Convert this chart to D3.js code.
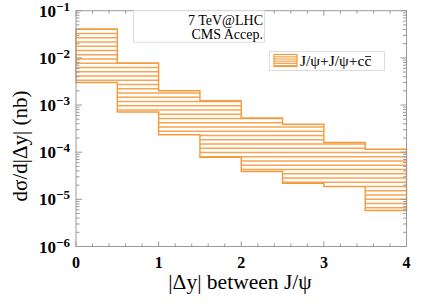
<!DOCTYPE html>
<html>
<head>
<meta charset="utf-8">
<script src="https://cdn.jsdelivr.net/npm/d3@7"></script>
<style>
  body { margin: 0; background: #fff; }
  svg { display: block; }
</style>
</head>
<body>
<script>
//bin edges in |dy|
var binLo = [0, 0.5, 1, 1.5, 2, 2.5, 3, 3.5];
var binHi = [0.5, 1, 1.5, 2, 2.5, 3, 3.5, 4];
//upper and lower edge of the band (nb)
var upper = [0.041, 0.0078, 0.0020, 0.00124, 0.00053, 0.00039, 0.00016, 0.000115];
var lower = [0.0030, 0.00071, 0.000234, 0.000078, 0.000039, 0.000022, 0.0000186, 0.0000058];
//tick values
var xMajor = [0, 1, 2, 3, 4];
var yExp = [-6, -5, -4, -3, -2, -1];

var width = 427, height = 307;
var orange = "#f49a3a";
var serif = "'Liberation Serif', 'Times New Roman', serif";

var svg = d3.select("body").append("svg")
    .attr("width", width)
    .attr("height", height)
    .attr("font-family", serif);

var x = d3.scaleLinear().domain([0, 4]).range([76, 406.5]);
var y = d3.scaleLog().domain([1e-6, 1e-1]).range([246.5, 10.7]);

var plotL = x.range()[0], plotR = x.range()[1];
var plotT = y.range()[1], plotB = y.range()[0];

//band outline: top steps then bottom steps back
var pts = [];
binLo.forEach(function(lo, i){
    pts.push([x(lo), y(upper[i])]);
    pts.push([x(binHi[i]), y(upper[i])]);
});
for (var i = binLo.length - 1; i >= 0; i--){
    pts.push([x(binHi[i]), y(lower[i])]);
    pts.push([x(binLo[i]), y(lower[i])]);
}
var bandPath = d3.line()(pts) + "Z";

var defs = svg.append("defs");
defs.append("clipPath").attr("id", "bandClip")
    .append("path").attr("d", bandPath);

//hatching, horizontal lines at fixed screen spacing
var hatchY = d3.range(plotT + 1.6, plotB, 4.25);
svg.append("g")
    .attr("clip-path", "url(#bandClip)")
    .selectAll("line")
    .data(hatchY)
    .enter()
    .append("line")
    .attr("x1", plotL).attr("x2", plotR)
    .attr("y1", function(d){ return d; })
    .attr("y2", function(d){ return d; })
    .attr("stroke", "#f7a552")
    .attr("stroke-width", 1.5);

svg.append("path")
    .attr("d", bandPath)
    .attr("fill", "none")
    .attr("stroke", orange)
    .attr("stroke-width", 1.4);

//frame
svg.append("rect")
    .attr("x", plotL).attr("y", plotT)
    .attr("width", plotR - plotL).attr("height", plotB - plotT)
    .attr("fill", "none")
    .attr("stroke", "#999")
    .attr("stroke-width", 1);

var ticks = svg.append("g").attr("stroke", "#999").attr("stroke-width", 1);

//x ticks every 0.2, longer at integers
d3.range(0, 4.001, 0.2).forEach(function(v){
    var major = Math.abs(v - Math.round(v)) < 1e-6;
    var len = major ? 5 : 3;
    ticks.append("line").attr("x1", x(v)).attr("x2", x(v))
        .attr("y1", plotB).attr("y2", plotB - len);
    ticks.append("line").attr("x1", x(v)).attr("x2", x(v))
        .attr("y1", plotT).attr("y2", plotT + len);
});

//y ticks, decades major, 2..9 minor
yExp.forEach(function(e){
    for (var m = 1; m <= 9; m++){
        var v = m * Math.pow(10, e);
        if (v > 0.1001) continue;
        var len = m == 1 ? 6 : 3.5;
        ticks.append("line").attr("x1", plotL).attr("x2", plotL + len)
            .attr("y1", y(v)).attr("y2", y(v));
        ticks.append("line").attr("x1", plotR).attr("x2", plotR - len)
            .attr("y1", y(v)).attr("y2", y(v));
    }
});

//x tick labels
svg.append("g").selectAll("text")
    .data(xMajor)
    .enter()
    .append("text")
    .attr("x", function(d){ return x(d); })
    .attr("y", 268)
    .attr("text-anchor", "middle")
    .attr("font-weight", "bold")
    .attr("font-size", 16)
    .text(function(d){ return d; });

//y tick labels
var yl = svg.append("g").selectAll("text")
    .data(yExp)
    .enter()
    .append("text")
    .attr("x", 39)
    .attr("y", function(d){ return y(Math.pow(10, d)) + 6; })
    .attr("font-weight", "bold")
    .attr("font-size", 17);
yl.append("tspan").text("10");
yl.append("tspan")
    .attr("dy", -6)
    .attr("font-size", 13)
    .text(function(d){ return "\u2212" + (-d); });

//axis titles
svg.append("text")
    .attr("x", 240).attr("y", 289)
    .attr("text-anchor", "middle")
    .attr("font-size", 21.5)
    .text("|\u0394y| between J/\u03c8");

svg.append("text")
    .attr("transform", "translate(27,146) rotate(-90)")
    .attr("text-anchor", "middle")
    .attr("font-size", 21)
    .text("d\u03c3/d|\u0394y| (nb)");

//info box
svg.append("rect")
    .attr("x", 133.5).attr("y", plotT)
    .attr("width", 131).attr("height", 31.5)
    .attr("fill", "#fff")
    .attr("stroke", "#ddd");
svg.append("text").attr("x", 263).attr("y", 25)
    .attr("text-anchor", "end").attr("font-size", 14)
    .text("7 TeV@LHC");
svg.append("text").attr("x", 263).attr("y", 39)
    .attr("text-anchor", "end").attr("font-size", 14)
    .text("CMS Accep.");

//legend
var lg = svg.append("g");
lg.append("rect")
    .attr("x", 269.5).attr("y", 51.5)
    .attr("width", 115).attr("height", 19)
    .attr("fill", "#fff")
    .attr("stroke", "#ddd");
d3.range(56.8, 66, 2.2).forEach(function(v){
    lg.append("line")
        .attr("x1", 274).attr("x2", 297)
        .attr("y1", v).attr("y2", v)
        .attr("stroke", "#f7a552").attr("stroke-width", 1.2);
});
lg.append("rect")
    .attr("x", 274).attr("y", 54.5)
    .attr("width", 23).attr("height", 12)
    .attr("fill", "none")
    .attr("stroke", orange)
    .attr("stroke-width", 1.2);
var legendLabel = "J/\u03c8+J/\u03c8+cc";
var lt = lg.append("text").attr("x", 300).attr("y", 66).attr("font-size", 15.5)
    .text(legendLabel);
//bar over the last c (anti-charm)
var node = lt.node();
var n = legendLabel.length;
var cx0 = 300 + node.getSubStringLength(0, n - 1);
var cw = node.getSubStringLength(n - 1, 1);
lg.append("line")
    .attr("x1", cx0 + 0.5).attr("x2", cx0 + cw - 0.3)
    .attr("y1", 56.5).attr("y2", 56.5)
    .attr("stroke", "#000").attr("stroke-width", 0.8);
</script>
</body>
</html>
